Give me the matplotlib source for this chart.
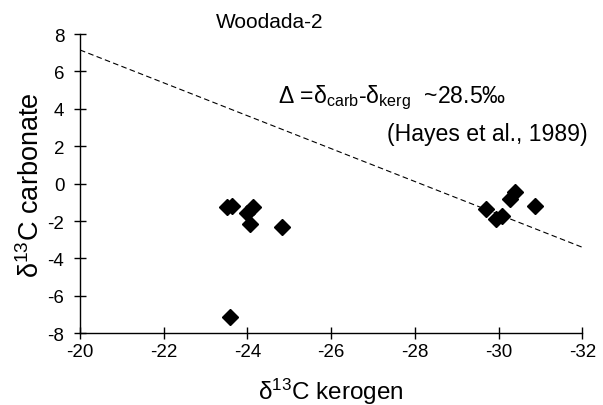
import numpy as np
import matplotlib
matplotlib.use("Agg")
import matplotlib.pyplot as plt

plt.rcParams['font.family'] = ['Liberation Sans', 'DejaVu Sans']
plt.rcParams['mathtext.fontset'] = 'custom'
plt.rcParams['mathtext.rm'] = 'Liberation Sans'
plt.rcParams['mathtext.it'] = 'Liberation Sans'
plt.rcParams['axes.unicode_minus'] = False

# d13C kerogen vs d13C carbonate, Woodada-2
kerogen = [-23.50, -23.62, -24.14, -23.98, -24.05, -24.83, -23.58,
           -29.71, -29.94, -30.07, -30.27, -30.39, -30.87]
carbonate = [-1.25, -1.18, -1.27, -1.57, -2.16, -2.34, -7.15,
             -1.36, -1.89, -1.72, -0.82, -0.47, -1.18]

# reference line, Delta ~28.5 per mil (Hayes et al., 1989)
line_x = [-20, -32]
line_y = [7.15, -3.4]

xticks = [-20, -22, -24, -26, -28, -30, -32]
yticks = [-8, -6, -4, -2, 0, 2, 4, 6, 8]

fig = plt.figure(figsize=(6.03, 4.06), dpi=100)
ax = fig.add_axes([0.1327, 0.1766, 0.833, 0.737])

ax.plot(line_x, line_y, color='black', lw=0.8, ls=(0, (5, 3)), zorder=2)
ax.plot(kerogen, carbonate, ls='none', marker='D', ms=8.5, color='black', zorder=3)

ax.set_xlim(-20, -32)
ax.set_ylim(-8, 8)
ax.set_xticks(xticks)
ax.set_yticks(yticks)
ax.spines['top'].set_visible(False)
ax.spines['right'].set_visible(False)
for s in ['left', 'bottom']:
    ax.spines[s].set_linewidth(1.0)
ax.tick_params(direction='inout', length=8.6, width=1.0, labelsize=13.5)
ax.tick_params(axis='y', pad=7)
ax.tick_params(axis='x', pad=3)
ax.yaxis.get_major_ticks()[0].tick1line.set_color('yellow')

ax.set_xlabel('δ$^{13}$C kerogen', fontsize=17.5, labelpad=11)
ax.set_ylabel('δ$^{13}$C carbonate', fontsize=19.5, labelpad=2)

fig.text(270 / 603, 1 - 22 / 406, 'Woodada-2', fontsize=15, ha='center', va='center')
fig.text(278 / 603, 1 - 98 / 406, 'Δ =δ$_{\\mathrm{carb}}$-δ$_{\\mathrm{kerg}}$  ~28.5‰',
         fontsize=16.6, ha='left', va='center')
fig.text(387 / 603, 1 - 135 / 406, '(Hayes et al., 1989)', fontsize=16.6, ha='left', va='center')

fig.savefig('out.png', dpi=100)
